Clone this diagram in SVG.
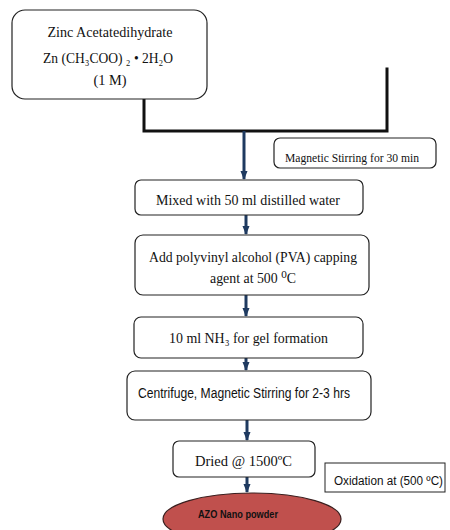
<svg xmlns="http://www.w3.org/2000/svg" width="450" height="530" viewBox="0 0 450 530">
<style>
.box{fill:#fff;stroke:#222;stroke-width:1.2}
.serif{font-family:"Liberation Serif","Times New Roman","DejaVu Serif",serif;fill:#111}
.sans{font-family:"Liberation Sans",Arial,"DejaVu Sans",sans-serif;fill:#111}
.arrow{stroke:#1f3a60;stroke-width:3;fill:none;marker-end:url(#ah)}
.join{stroke:#111;stroke-width:3;fill:none;stroke-linecap:square}
</style>
<defs>
<marker id="ah" markerUnits="userSpaceOnUse" markerWidth="10" markerHeight="10" refX="8" refY="5" orient="auto">
<path d="M0,1.5 L9,5 L0,8.5 Z" fill="#1f3a60"/>
</marker>
</defs>
<rect width="450" height="530" fill="#fff"/>
<g id="connectors">
<polyline class="join" points="144,93 144,131 387,131 387,69"/>
<line class="arrow" x1="244" y1="131" x2="244" y2="179"/>
<line class="arrow" x1="246" y1="215" x2="246" y2="234"/>
<line class="arrow" x1="246" y1="295" x2="246" y2="316"/>
<line class="arrow" x1="246" y1="358" x2="246" y2="370"/>
<line class="arrow" x1="247" y1="420" x2="247" y2="440"/>
<line class="arrow" x1="247" y1="477" x2="247" y2="492"/>
</g>
<g id="n1">
<rect class="box" x="12" y="10" width="195" height="89" rx="13"/>
<text class="serif" x="110" y="37" font-size="15" text-anchor="middle" textLength="125" lengthAdjust="spacingAndGlyphs">Zinc Acetatedihydrate</text>
<text class="serif" x="108" y="63" font-size="15" text-anchor="middle" textLength="130" lengthAdjust="spacingAndGlyphs">Zn (CH₃COO) ₂ • 2H₂O</text>
<text class="serif" x="110" y="85" font-size="15" text-anchor="middle" textLength="33" lengthAdjust="spacingAndGlyphs">(1 M)</text>
</g>
<g id="n_mag">
<rect class="box" x="274" y="138" width="162" height="30" rx="6"/>
<text class="serif" x="285" y="162" font-size="13" textLength="134" lengthAdjust="spacingAndGlyphs">Magnetic Stirring for 30 min</text>
</g>
<g id="n2">
<rect class="box" x="135" y="180" width="228" height="35" rx="6"/>
<text class="serif" x="156" y="205" font-size="15" textLength="184" lengthAdjust="spacingAndGlyphs">Mixed with 50 ml distilled water</text>
</g>
<g id="n3">
<rect class="box" x="135" y="235" width="234" height="60" rx="8"/>
<text class="serif" x="149" y="262" font-size="15" textLength="208" lengthAdjust="spacingAndGlyphs">Add polyvinyl alcohol (PVA) capping</text>
<text class="serif" x="210" y="283" font-size="15" textLength="86" lengthAdjust="spacingAndGlyphs">agent at 500 ⁰C</text>
</g>
<g id="n4">
<rect class="box" x="134" y="317" width="229" height="41" rx="7"/>
<text class="serif" x="169" y="343" font-size="15" textLength="159" lengthAdjust="spacingAndGlyphs">10 ml NH₃ for gel formation</text>
</g>
<g id="n5">
<rect class="box" x="127" y="371" width="244" height="49" rx="8"/>
<text class="sans" x="138" y="398" font-size="14" textLength="212" lengthAdjust="spacingAndGlyphs">Centrifuge, Magnetic Stirring for 2-3 hrs</text>
</g>
<g id="n6">
<rect class="box" x="173" y="441" width="142" height="36" rx="6"/>
<text class="serif" x="195" y="466" font-size="15" textLength="97" lengthAdjust="spacingAndGlyphs">Dried @ 1500ºC</text>
</g>
<g id="n_ox">
<rect x="325" y="463" width="120" height="29" fill="#fff" stroke="#222" stroke-width="1"/>
<text class="sans" x="334" y="485" font-size="12" fill="#222" textLength="109" lengthAdjust="spacingAndGlyphs">Oxidation at (500 ºC)</text>
</g>
<g id="n7">
<ellipse cx="252" cy="519" rx="89" ry="26" fill="#c0504d" stroke="#3a1f1f" stroke-width="1.2"/>
<text class="sans" x="198" y="518" font-size="11" font-weight="bold" textLength="80" lengthAdjust="spacingAndGlyphs">AZO Nano powder</text>
</g>
</svg>
